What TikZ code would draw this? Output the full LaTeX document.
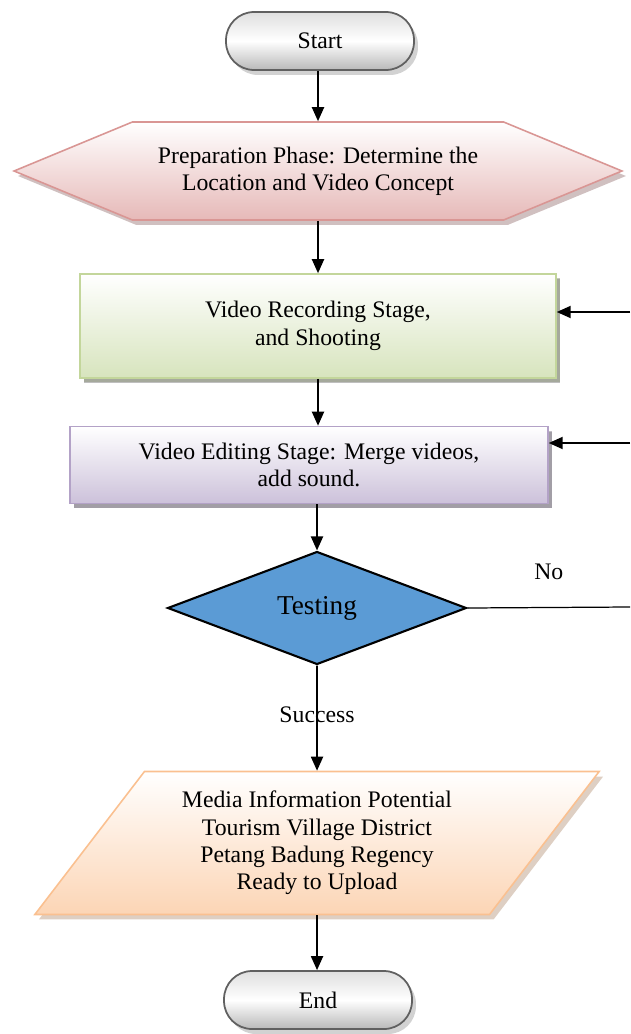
\documentclass[tikz,border=0pt]{standalone}
\usepackage{fontspec}
\setmainfont{Liberation Serif}
\usetikzlibrary{shapes.geometric, shapes.symbols, arrows.meta, shadows}
\usepackage{xcolor}
\definecolor{pinkline}{HTML}{D99694}
\definecolor{pinkfill}{HTML}{E6B9B8}
\definecolor{greenline}{HTML}{C3D69B}
\definecolor{greenfill}{HTML}{D7E4BD}
\definecolor{purpleline}{HTML}{B3A2C7}
\definecolor{purplefill}{HTML}{CCC1DA}
\definecolor{orangeline}{HTML}{FAC090}
\definecolor{orangefill}{HTML}{FCD5B5}
\definecolor{testblue}{HTML}{5B9BD5}
\tikzset{
  terminal/.style={rectangle, rounded corners=0.56cm, minimum width=3.76cm, minimum height=1.16cm, text centered, draw=gray!75!black, line width=1pt, top color=gray!25, bottom color=gray!55, middle color=white, drop shadow={fill=gray!70, shadow xshift=0.08cm, shadow yshift=-0.1cm}},
  prepare/.style={signal, signal to=east and west, signal pointer angle=45, minimum width=12.16cm, minimum height=1.96cm, inner sep=0pt, align=center, draw=pinkline, line width=0.9pt, top color=white, bottom color=pinkfill, drop shadow={fill=pinkfill!70!black, shadow xshift=0.08cm, shadow yshift=-0.1cm}},
  process/.style={rectangle, align=center, line width=0.9pt, top color=white, drop shadow={shadow xshift=0.08cm, shadow yshift=-0.1cm}},
  decision/.style={diamond, minimum width=5.98cm, minimum height=2.26cm, inner sep=0pt, text centered, draw=black, line width=1.2pt, fill=testblue, font=\fontsize{15.5}{18}\selectfont},
  io/.style={trapezium, trapezium stretches=true, trapezium left angle=50.5, trapezium right angle=129.5, minimum width=11.32cm, minimum height=2.86cm, inner sep=0pt, align=center, draw=orangeline, line width=0.9pt, top color=white, bottom color=orangefill, drop shadow={fill=orangefill!75!black, shadow xshift=0.08cm, shadow yshift=-0.1cm}},
  arrow/.style={line width=1.1pt, -{Triangle[length=0.28cm, width=0.24cm]}, color=black}
}

\begin{document}
\begin{tikzpicture}[x=0.02cm, y=-0.02cm, font=\fontsize{13.5}{15.6}\selectfont]
    \useasboundingbox (0,0) rectangle (630,1034);
    % Defining nodes
    \node[terminal] (start) at (320,41) {Start};
    \node[prepare] (prep) at (318,171) {Preparation Phase: Determine the\\Location and Video Concept};
    \node[process, draw=greenline, bottom color=greenfill, minimum width=9.52cm, minimum height=2.08cm, drop shadow={fill=greenfill!65!black}] (record) at (318,326) {Video Recording Stage,\\and Shooting};
    \node[process, draw=purpleline, bottom color=purplefill, minimum width=9.56cm, minimum height=1.54cm, drop shadow={fill=purplefill!65!black}] (edit) at (309,465) {Video Editing Stage: Merge videos,\\add sound.};
    \node[decision] (test) at (317,608) {\raisebox{-3pt}{Testing}};
    \node[io] (media) at (317,843) {Media Information Potential\\Tourism Village District\\Petang Badung Regency\\Ready to Upload};
    \node[terminal] (end) at (318,1000) {End};
    \coordinate (recin) at (630,312);
    \coordinate (editin) at (630,443);
    \coordinate (noout) at (630,607);

    % Drawing arrows
    \draw[arrow] (start.south -| prep.north) -- (prep.north);
    \draw[arrow] (prep.south) -- (record.north);
    \draw[arrow] (record.south) -- (record.south |- edit.north);
    \draw[arrow] (edit.south -| test.north) -- (test.north);
    \draw[arrow] (test.south) -- node[pos=0.47] {Success} (media.north);
    \draw[arrow] (media.south) -- (media.south |- end.north);
    \draw[line width=0.7pt] (test.east) -- node[above=0.42cm] {No} (noout);
    \draw[arrow] (recin) -- (record.east |- recin);
    \draw[arrow] (editin) -- (edit.east |- editin);
\end{tikzpicture}
\end{document}
